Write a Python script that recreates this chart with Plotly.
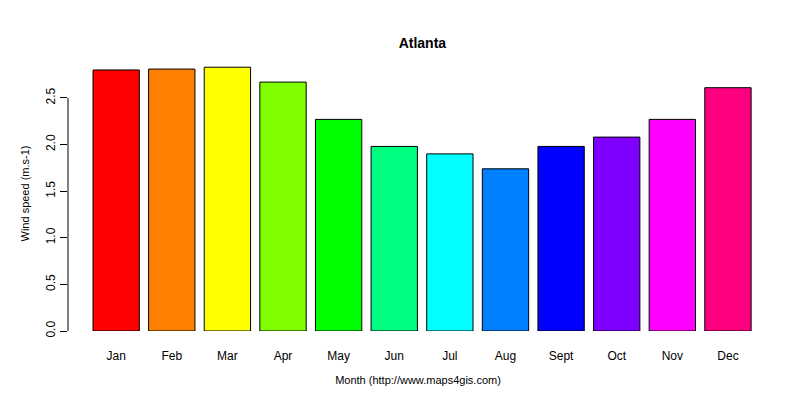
import plotly.graph_objects as go

months = ["Jan", "Feb", "Mar", "Apr", "May", "Jun", "Jul", "Aug", "Sept", "Oct", "Nov", "Dec"]
wind_speed = [2.80, 2.81, 2.83, 2.67, 2.27, 1.98, 1.90, 1.74, 1.98, 2.08, 2.27, 2.61]
bar_colors = ["#FF0000", "#FF8000", "#FFFF00", "#80FF00", "#00FF00", "#00FF80",
              "#00FFFF", "#0080FF", "#0000FF", "#8000FF", "#FF00FF", "#FF0080"]
y_ticks = [0.0, 0.5, 1.0, 1.5, 2.0, 2.5]

fig = go.Figure(go.Bar(
    x=list(range(len(months))), y=wind_speed,
    marker=dict(color=bar_colors, line=dict(color="black", width=1)),
    width=0.833,
))

font = "Liberation Sans, Arial, sans-serif"
fig.update_layout(
    width=800, height=400,
    plot_bgcolor="white", paper_bgcolor="white",
    margin=dict(l=60, r=40, t=48, b=77),
    font=dict(family=font, size=12, color="black"),
    title=dict(text="<b>Atlanta</b>", x=0.518, xanchor="center", y=0.925, font=dict(size=14)),
    showlegend=False,
    xaxis=dict(range=[-0.866, 11.72], tickvals=list(range(len(months))), ticktext=months,
               showline=False, showgrid=False, ticks="", ticklabelstandoff=16, automargin=False,
               tickfont=dict(size=12),
               title=dict(text="Month (http://www.maps4gis.com)", standoff=14, font=dict(size=11)),
               zeroline=False),
    yaxis=dict(range=[0, 2.95], tickvals=y_ticks, ticktext=[f"{v:.1f}" for v in y_ticks],
               tickangle=-90, ticks="outside", ticklen=7, tickcolor="black", automargin=False,
               tickfont=dict(size=12),
               showgrid=False, zeroline=False, showline=False,
               title=dict(text="Wind speed (m.s-1)", standoff=12, font=dict(size=11))),
)
fig.add_shape(type="line", xref="paper", yref="y", x0=0, x1=0, y0=0, y1=2.5,
              line=dict(color="black", width=1))
fig.write_html("out.html")
